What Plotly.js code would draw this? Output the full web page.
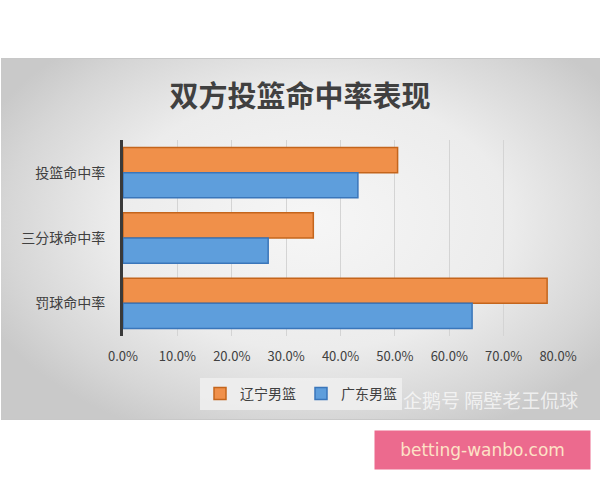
<!DOCTYPE html>
<html>
<head>
<meta charset="utf-8">
<script src="https://cdn.plot.ly/plotly-3.0.1.min.js"></script>
<style>
  html, body { margin: 0; padding: 0; background: #ffffff; }
  #wrap { position: relative; width: 600px; height: 480px; }
  #bg { position: absolute; left: 1px; top: 58px; width: 599px; height: 360px;
        background: radial-gradient(ellipse 60% 65% at 52% 45%, #f6f6f6 0%, #ececec 55%, #d6d6d6 85%, #c9c9c9 100%);
        border-top: 1px solid #c8c8c8; border-bottom: 1px solid #c8c8c8; }
  #chart { position: absolute; left: 0; top: 0; width: 600px; height: 480px; }
</style>
</head>
<body>
<div id="wrap">
  <div id="bg"></div>
  <div id="chart"></div>
</div>
<script>
const categories = ['投篮命中率', '三分球命中率', '罚球命中率'];
const seriesNames = ['辽宁男篮', '广东男篮'];
const liaoning = [50.5, 35.0, 78.0];
const guangdong = [43.2, 26.7, 64.2];
const xTicks = [0, 10, 20, 30, 40, 50, 60, 70, 80];
const xTickLabels = ['0.0%', '10.0%', '20.0%', '30.0%', '40.0%', '50.0%', '60.0%', '70.0%', '80.0%'];
const chartTitle = '双方投篮命中率表现';
const watermark = '企鹅号 隔壁老王侃球';
const siteLabel = 'betting-wanbo.com';

const font = 'Noto Sans CJK SC, Noto Sans, sans-serif';

const traces = [
  { type: 'bar', orientation: 'h', name: seriesNames[0], y: categories, x: liaoning,
    marker: { color: '#F0904A', line: { color: '#C4651C', width: 1.5 } }, hoverinfo: 'x+y' },
  { type: 'bar', orientation: 'h', name: seriesNames[1], y: categories, x: guangdong,
    marker: { color: '#5E9EDC', line: { color: '#3A76BA', width: 1.5 } }, hoverinfo: 'x+y' }
];

const L = 123, R = 558, T = 140, B = 336;
const px2x = px => (px - L) / (R - L);
const py2y = py => (B - py) / (B - T);

const layout = {
  width: 600, height: 480,
  margin: { l: L, r: 600 - R, t: T, b: 480 - B, pad: 0 },
  paper_bgcolor: 'rgba(0,0,0,0)',
  plot_bgcolor: 'rgba(0,0,0,0)',
  font: { family: font, color: '#404040' },
  title: { text: chartTitle, x: 0.5, xref: 'container', y: 1 - 97 / 480, yref: 'container',
           yanchor: 'middle', font: { family: font, size: 29, color: '#404040', weight: 'bold' } },
  barmode: 'group',
  bargap: 0.23,
  bargroupgap: 0,
  showlegend: true,
  legend: { orientation: 'h', x: px2x(301), xanchor: 'center', y: py2y(394), yanchor: 'middle',
            bgcolor: 'rgba(238,238,238,0.9)', font: { family: font, size: 14, color: '#404040' },
            itemwidth: 30, traceorder: 'normal' },
  xaxis: { range: [0, 80], tickmode: 'array', tickvals: xTicks, ticktext: xTickLabels,
           showgrid: true, gridcolor: '#d4d4d4', gridwidth: 1, zeroline: false,
           showline: false, ticks: 'outside', ticklen: 8, tickcolor: 'rgba(0,0,0,0)',
           tickfont: { family: font, size: 13, color: '#404040' }, fixedrange: true },
  yaxis: { type: 'category', autorange: 'reversed', showline: true, linecolor: '#3a3a3a', linewidth: 3,
           showgrid: false, zeroline: false, ticks: 'outside', ticklen: 12, tickcolor: 'rgba(0,0,0,0)',
           tickfont: { family: font, size: 14, color: '#404040' }, fixedrange: true },
  annotations: [
    { text: watermark, xref: 'paper', yref: 'paper', x: px2x(490), y: py2y(399),
      xanchor: 'center', yanchor: 'middle', showarrow: false,
      font: { family: font, size: 19, color: 'rgba(255,255,255,0.7)' } },
    { text: siteLabel, xref: 'paper', yref: 'paper', x: px2x(482.5), y: py2y(450),
      xanchor: 'center', yanchor: 'middle', showarrow: false, width: 215, height: 38,
      bgcolor: '#EC6A8E', borderpad: 0,
      font: { family: 'DejaVu Sans, sans-serif', size: 17, color: '#FDE2C6' } }
  ]
};

Plotly.newPlot('chart', traces, layout, { displayModeBar: false, staticPlot: true });
</script>
</body>
</html>
